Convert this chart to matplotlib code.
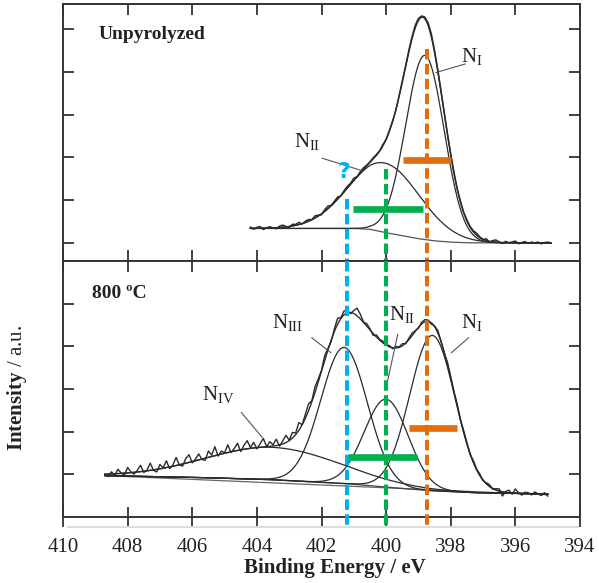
import numpy as np
import matplotlib
matplotlib.use("Agg")
import matplotlib.pyplot as plt
from matplotlib.lines import Line2D

plt.rcParams['font.family'] = ['Liberation Serif', 'DejaVu Serif']
plt.rcParams['mathtext.fontset'] = 'custom'
plt.rcParams['mathtext.rm'] = 'Liberation Serif'
plt.rcParams['mathtext.bf'] = 'Liberation Serif:bold'
plt.rcParams['mathtext.it'] = 'Liberation Serif:italic'

# ---------------- data ----------------
x_ticks = [410, 408, 406, 404, 402, 400, 398, 396, 394]

# top panel (Unpyrolyzed)
top_base_E = [404.3, 401.0, 400.5, 400.0, 399.5, 399.0, 398.5, 398.0, 397.5, 394.8]
top_base_I = [0.34, 0.34, 0.32, 0.24, 0.17, 0.10, 0.05, 0.02, 0.005, 0.0]
top_names = ['I', 'II']
top_center = [398.80, 400.05]
top_height = [4.30, 1.62]
top_fwhm = [1.40, 2.60]
top_raw_start, top_raw_end = 404.2, 394.9
top_resid = [0.03, -0.02, 0.02, 0.04, -0.03, 0.01, 0.03, 0.00, -0.02,
             0.03, 0.05, 0.01, -0.02, 0.04, 0.02, 0.05, -0.01, 0.03, 0.04,
             0.00, 0.05, 0.02, -0.02, 0.04, 0.06, 0.01, 0.03, 0.05, -0.01,
             0.03, 0.04, 0.02, 0.05, 0.00, 0.03, 0.04, 0.02, 0.01, 0.03,
             0.02, 0.01, 0.03, 0.00, 0.02, 0.01, -0.01, 0.02, 0.03, 0.02,
             0.04, 0.05, 0.06, 0.05, 0.03, 0.04, 0.06, 0.07, 0.05, 0.04,
             0.03, 0.02, 0.01, 0.03, 0.02, 0.00, 0.02, 0.01, 0.03, 0.02,
             0.03, 0.05, 0.02, 0.00, 0.04, -0.02, 0.03, 0.05, 0.01, -0.02,
             0.03, 0.00, 0.02, 0.04, -0.02, 0.01, 0.03, -0.01, 0.02, 0.00,
             0.02, -0.02, 0.01, 0.02, 0.00]

# bottom panel (800 ºC)
bot_base_E = [408.7, 406.0, 403.7, 401.2, 400.0, 398.7, 397.3, 395.0]
bot_base_I = [0.97, 0.93, 0.88, 0.78, 0.70, 0.62, 0.57, 0.54]
bot_line2_E = [408.7, 395.0]
bot_line2_I = [0.97, 0.52]
bot_names = ['I', 'II', 'III', 'IV']
bot_center = [398.57, 400.00, 401.30, 403.50]
bot_height = [3.64, 2.06, 3.19, 0.76]
bot_fwhm = [1.65, 1.60, 1.70, 4.90]
bot_raw_start, bot_raw_end = 408.7, 395.0
bot_resid = [0.00, -0.06, 0.05, -0.04, 0.10, 0.01, -0.05, 0.13, 0.02, -0.04,
             0.04, 0.15, -0.03, 0.02, 0.17, -0.01, -0.06, 0.10, 0.01, 0.16,
             -0.04, 0.03, 0.19, 0.00, -0.05, 0.11, 0.18, -0.03, 0.04, 0.14,
             -0.01, -0.05, 0.15, 0.03, 0.21, -0.03, 0.07, 0.01, 0.18, -0.02,
             0.06, 0.17, -0.04, 0.09, 0.19, 0.02, 0.13, -0.03, 0.08, 0.20,
             0.00, 0.11, 0.03, 0.15, -0.03, 0.07, 0.17, 0.01, 0.13, 0.04,
             0.18, 0.00, 0.09, 0.16, 0.03, 0.13, 0.07, 0.02,
             0.11, 0.03, -0.04, 0.06, 0.14, 0.02, 0.09, 0.04, -0.03, 0.07,
             0.18, 0.11, 0.01, 0.06, 0.03, -0.04, 0.05, 0.02, 0.04, 0.01,
             0.03, -0.02, 0.04, 0.01, 0.05, -0.01, 0.03, 0.06, 0.02, -0.02,
             0.04, 0.05, 0.03, -0.03, 0.02, 0.06, 0.01, -0.02, 0.05, 0.03,
             0.00, 0.04, -0.02, 0.03, 0.02, -0.03, 0.04, 0.01, 0.03, -0.02,
             0.02, 0.04, -0.02, 0.03, 0.05, -0.10, 0.02, 0.06, -0.03, 0.10,
             0.01, -0.04, 0.03, 0.02, -0.03, 0.04, 0.00, -0.04, 0.03, -0.05]

# reference markers
mark_E = [398.75, 400.0, 401.2]
mark_colors = ['#E46C0A', '#00B050', '#00B0F0']
top_mark_start = [4.52, 1.73, 1.02]
top_bar_v = [1.93, 0.79]
top_bar_E = [(399.47, 398.00), (401.01, 398.87)]
bot_bar_v = [2.09, 1.40]
bot_bar_E = [(399.28, 397.81), (401.18, 399.05)]

# ---------------- helpers ----------------
def gauss(E, c, h, w):
    return h * np.exp(-4 * np.log(2) * (E - c) ** 2 / w ** 2)

INK = '#2b2b2b'

fig = plt.figure(figsize=(5.99, 5.83), dpi=100)
W, H = 599.0, 583.0
L, R = 63, 580
ax1 = fig.add_axes([L / W, 1 - 261 / H, (R - L) / W, 257 / H])
ax2 = fig.add_axes([L / W, 1 - 517 / H, (R - L) / W, 256 / H])

for ax in (ax1, ax2):
    ax.set_xlim(410, 394)
    ax.set_xticks(x_ticks)
    for s in ax.spines.values():
        s.set_linewidth(1.4)
        s.set_color('#333333')
ax1.set_ylim(-0.42, 5.58)
ax1.set_yticks([0, 1, 2, 3, 4, 5])
ax2.set_ylim(0, 6.0)
ax2.set_yticks([1, 2, 3, 4, 5])
for ax in (ax1, ax2):
    ax.tick_params(axis='both', which='both', direction='in', length=8, width=1.3,
                   color='#333333', top=True, right=True, bottom=True, left=True,
                   labelleft=False, labelbottom=False)
ax2.tick_params(axis='x', which='both', bottom=True, direction='inout', length=14,
                labelbottom=True, labelsize=15, pad=8, labelcolor='#222222')
ax2.tick_params(axis='x', which='both', top=True)
for t in ax2.xaxis.get_major_ticks():
    t.tick2line.set_marker(3)  # TICKDOWN: inward on top spine
    t.tick2line.set_markersize(8)

# ----- top panel curves -----
Ef = np.linspace(top_raw_start, top_raw_end, 500)
base_t = np.interp(Ef[::-1], top_base_E[::-1], top_base_I[::-1])[::-1]
comps = [gauss(Ef, c, h, w) for c, h, w in zip(top_center, top_height, top_fwhm)]
ax1.plot(Ef, base_t, color='#555555', lw=0.9)
for cp in comps:
    ax1.plot(Ef, base_t + cp, color=INK, lw=0.9)
env_t = base_t + np.sum(comps, axis=0)
ax1.plot(Ef, env_t, color=INK, lw=1.0)
Er = np.linspace(top_raw_start, top_raw_end, len(top_resid))
base_r = np.interp(Er[::-1], top_base_E[::-1], top_base_I[::-1])[::-1]
raw_t = base_r + np.sum([gauss(Er, c, h, w) for c, h, w in
                         zip(top_center, top_height, top_fwhm)], axis=0) + np.array(top_resid)
ax1.plot(Er, raw_t, color=INK, lw=1.1)

# ----- bottom panel curves -----
Eb = np.linspace(bot_raw_start, bot_raw_end, 700)
base_b = np.interp(Eb[::-1], bot_base_E[::-1], bot_base_I[::-1])[::-1]
ax2.plot(bot_line2_E, bot_line2_I, color='#666666', lw=0.9)
ax2.plot(Eb, base_b, color='#444444', lw=0.9)
bcomps = [gauss(Eb, c, h, w) for c, h, w in zip(bot_center, bot_height, bot_fwhm)]
for cp in bcomps:
    ax2.plot(Eb, base_b + cp, color=INK, lw=0.9)
env_b = base_b + np.sum(bcomps, axis=0)
ax2.plot(Eb, env_b, color=INK, lw=1.0)
Ebr = np.linspace(bot_raw_start, bot_raw_end, len(bot_resid))
base_br = np.interp(Ebr[::-1], bot_base_E[::-1], bot_base_I[::-1])[::-1]
raw_b = base_br + np.sum([gauss(Ebr, c, h, w) for c, h, w in
                          zip(bot_center, bot_height, bot_fwhm)], axis=0) + np.array(bot_resid)
ax2.plot(Ebr, raw_b, color=INK, lw=1.0)

# ----- markers -----
dash = (2.6, 1.1)
for E, col, v0 in zip(mark_E, mark_colors, top_mark_start):
    ax1.plot([E, E], [v0, -0.42], color=col, lw=2.9, dashes=dash, clip_on=False, zorder=5)
    ax2.plot([E, E], [6.0, -0.22], color=col, lw=2.9, dashes=dash, clip_on=False, zorder=5)
for v, (e1, e2), col in zip(top_bar_v, top_bar_E, mark_colors[:2]):
    ax1.plot([e1, e2], [v, v], color=col, lw=4.8, solid_capstyle='butt', zorder=6)
for v, (e1, e2), col in zip(bot_bar_v, bot_bar_E, mark_colors[:2]):
    ax2.plot([e1, e2], [v, v], color=col, lw=4.8, solid_capstyle='butt', zorder=6)

# ----- labels -----
lab_fs = 15
ax1.text(397.34, 4.36, r'N$_{\mathrm{I}}$', fontsize=lab_fs, ha='center', va='center', color='#222222')
ax1.plot([398.46, 397.55], [3.98, 4.18], color='#555555', lw=0.8)
ax1.text(402.45, 2.38, r'N$_{\mathrm{II}}$', fontsize=lab_fs, ha='center', va='center', color='#222222')
ax1.plot([401.98, 400.75], [1.98, 1.69], color='#555555', lw=0.8)
ax1.text(401.32, 1.66, '?', fontsize=16, fontweight='bold', family='DejaVu Sans',
         ha='center', va='center', color='#00B0F0')
ax1.text(408.9, 4.87, 'Unpyrolyzed', fontsize=14, fontweight='bold', ha='left', va='center',
         color='#222222')

ax2.text(403.05, 4.55, r'N$_{\mathrm{III}}$', fontsize=lab_fs, ha='center', va='center', color='#222222')
ax2.plot([402.3, 401.71], [4.2, 3.85], color='#555555', lw=0.8)
ax2.text(399.5, 4.75, r'N$_{\mathrm{II}}$', fontsize=lab_fs, ha='center', va='center', color='#222222')
ax2.plot([399.64, 400.01], [4.28, 3.0], color='#555555', lw=0.8)
ax2.text(397.34, 4.55, r'N$_{\mathrm{I}}$', fontsize=lab_fs, ha='center', va='center', color='#222222')
ax2.plot([397.45, 397.98], [4.2, 3.85], color='#555555', lw=0.8)
ax2.text(405.2, 2.88, r'N$_{\mathrm{IV}}$', fontsize=lab_fs, ha='center', va='center', color='#222222')
ax2.plot([404.48, 403.84], [2.45, 1.87], color='#555555', lw=0.8)
ax2.text(409.1, 5.25, '800 ºC', fontsize=14, fontweight='bold', ha='left', va='center',
         color='#222222')

fig.text(335 / W, 1 - 568 / H, 'Binding Energy / eV', fontsize=15, fontweight='bold',
         ha='center', va='center', color='#222222')
fig.text(17 / W, 1 - 388 / H, r'$\mathbf{Intensity}$ / a.u.', fontsize=15, rotation=90,
         ha='center', va='center', color='#222222')

# faint shadow line under the axis
fig.add_artist(Line2D([68 / W, 578 / W], [1 - 527 / H, 1 - 527 / H], color='#dddddd', lw=1.5))

fig.savefig('out.png', dpi=100)
